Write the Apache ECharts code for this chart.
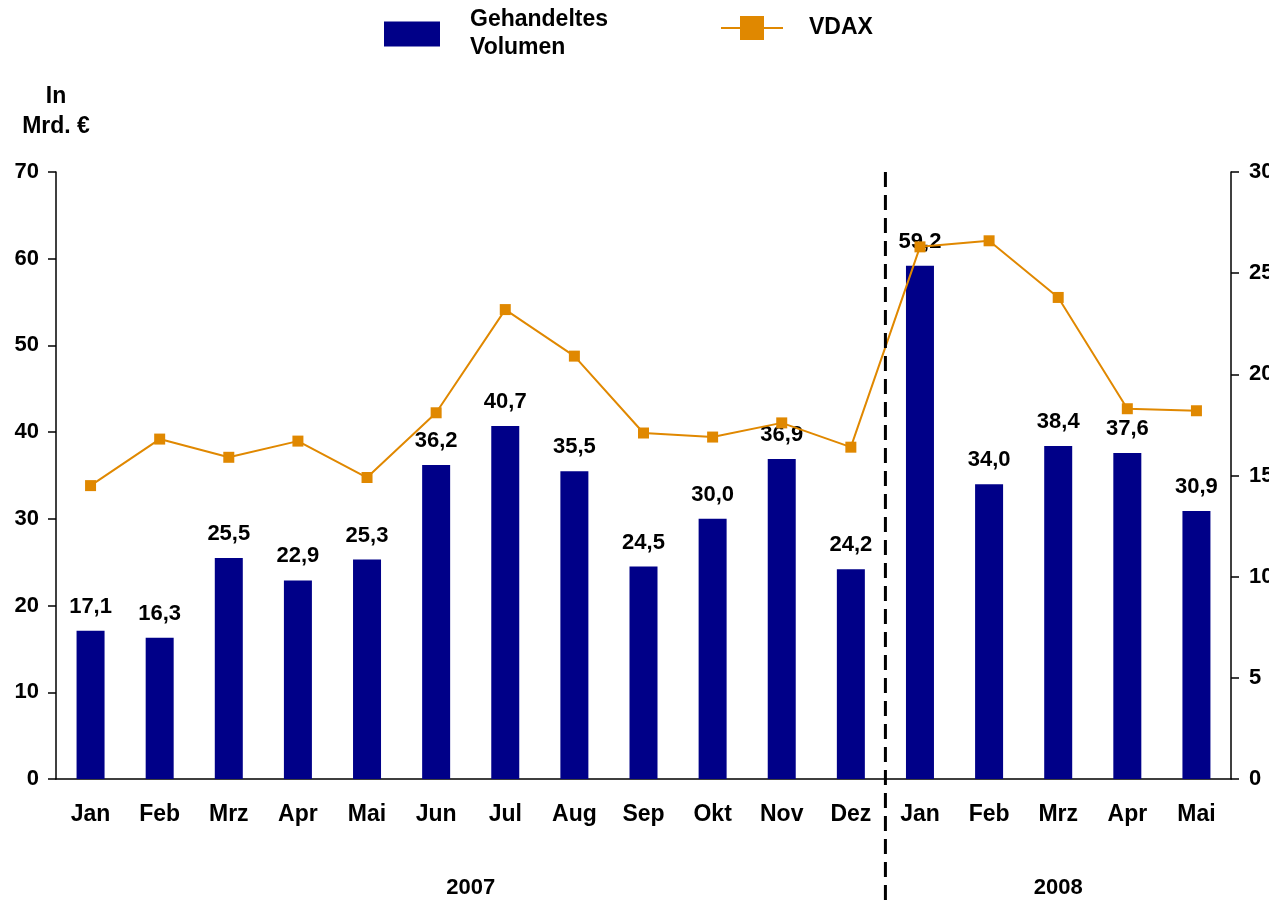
<!DOCTYPE html>
<html>
<head>
<meta charset="utf-8">
<script src="https://cdn.jsdelivr.net/npm/echarts@6/dist/echarts.min.js"></script>
<style>
html,body{margin:0;padding:0;background:#fff;}
#c{width:1269px;height:902px;}
</style>
</head>
<body>
<div id="c"></div>
<script>
var months = ['Jan','Feb','Mrz','Apr','Mai','Jun','Jul','Aug','Sep','Okt','Nov','Dez','Jan','Feb','Mrz','Apr','Mai'];
var years = [{label:'2007', from:0, to:11},{label:'2008', from:12, to:16}];
var volumen = [17.1,16.3,25.5,22.9,25.3,36.2,40.7,35.5,24.5,30.0,36.9,24.2,59.2,34.0,38.4,37.6,30.9];
var vdax = [14.5,16.8,15.9,16.7,14.9,18.1,23.2,20.9,17.1,16.9,17.6,16.4,26.3,26.6,23.8,18.3,18.2];
var leftTicks = [0,10,20,30,40,50,60,70];
var rightTicks = [0,5,10,15,20,25,30];

var FONT = '"Liberation Sans", Arial, sans-serif';
var chart = echarts.init(document.getElementById('c'));
var option = {
  animation:false,
  textStyle:{fontFamily:FONT},
  grid:{left:56,right:38,top:172,bottom:123,containLabel:false,outerBoundsMode:'none'},
  legend:[{
    data:['Gehandeltes Volumen'],
    left:384, top:6, padding:0,
    itemWidth:56, itemHeight:25,
    icon:'rect',
    formatter:function(n){return n.replace(' ','\n');},
    textStyle:{fontFamily:FONT,fontWeight:'bold',fontSize:23,color:'#000',lineHeight:28,padding:[0,0,0,25]}
  },{
    data:['VDAX'],
    left:720, top:16, padding:0,
    itemWidth:62, itemHeight:30,
    textStyle:{fontFamily:FONT,fontWeight:'bold',fontSize:23,color:'#000',padding:[0,0,0,21]}
  }],
  xAxis:{
    type:'category',
    data:months,
    axisLine:{lineStyle:{color:'#000',width:1.5}},
    axisTick:{show:false},
    axisLabel:{fontFamily:FONT,fontWeight:'bold',fontSize:23,color:'#000',margin:24}
  },
  yAxis:[{
    type:'value',min:leftTicks[0],max:leftTicks[leftTicks.length-1],interval:10,
    name:'In\nMrd. €',nameLocation:'end',nameGap:30,
    nameTextStyle:{fontFamily:FONT,fontWeight:'bold',fontSize:23,color:'#000',lineHeight:30,align:'center'},
    axisLine:{show:true,lineStyle:{color:'#000',width:1.5}},
    axisTick:{show:true,length:8,lineStyle:{color:'#000',width:1.5}},
    splitLine:{show:false},
    axisLabel:{fontFamily:FONT,fontWeight:'bold',fontSize:22,color:'#000',margin:17}
  },{
    type:'value',min:rightTicks[0],max:rightTicks[rightTicks.length-1],interval:5,
    position:'right',
    axisLine:{show:true,lineStyle:{color:'#000',width:1.5}},
    axisTick:{show:true,length:8,lineStyle:{color:'#000',width:1.5}},
    splitLine:{show:false},
    axisLabel:{fontFamily:FONT,fontWeight:'bold',fontSize:22,color:'#000',margin:18}
  }],
  series:[{
    name:'Gehandeltes Volumen',
    type:'bar',
    data:volumen,
    yAxisIndex:0,
    barWidth:28,
    itemStyle:{color:'#000088'},
    label:{show:true,position:'top',distance:13,fontFamily:FONT,fontWeight:'bold',fontSize:22,color:'#000',
      formatter:function(p){return p.value.toFixed(1).replace('.',',');}},
    z:2
  },{
    name:'VDAX',
    type:'line',
    data:vdax,
    yAxisIndex:1,
    symbol:'rect',symbolSize:11,
    lineStyle:{color:'#E08800',width:2},
    itemStyle:{color:'#E08800'},
    z:3
  }]
};
chart.setOption(option);

function drawExtras(){
  var x11 = chart.convertToPixel({xAxisIndex:0}, 11);
  var x12 = chart.convertToPixel({xAxisIndex:0}, 12);
  var yTop = chart.convertToPixel({yAxisIndex:0}, leftTicks[leftTicks.length-1]);
  var sepX = (x11 + x12)/2;
  var g = [{
    type:'line',
    shape:{x1:sepX,y1:yTop,x2:sepX,y2:902},
    style:{stroke:'#000',lineWidth:3,lineDash:[15,8]},
    z:10
  }];
  years.forEach(function(y){
    var a = chart.convertToPixel({xAxisIndex:0}, y.from);
    var b = chart.convertToPixel({xAxisIndex:0}, y.to);
    g.push({
      type:'text',
      x:(a+b)/2, y:888,
      style:{text:y.label,font:'bold 22px '+FONT,fill:'#000',align:'center',verticalAlign:'middle'},
      z:10
    });
  });
  chart.setOption({graphic:g});
}
drawExtras();
</script>
</body>
</html>
